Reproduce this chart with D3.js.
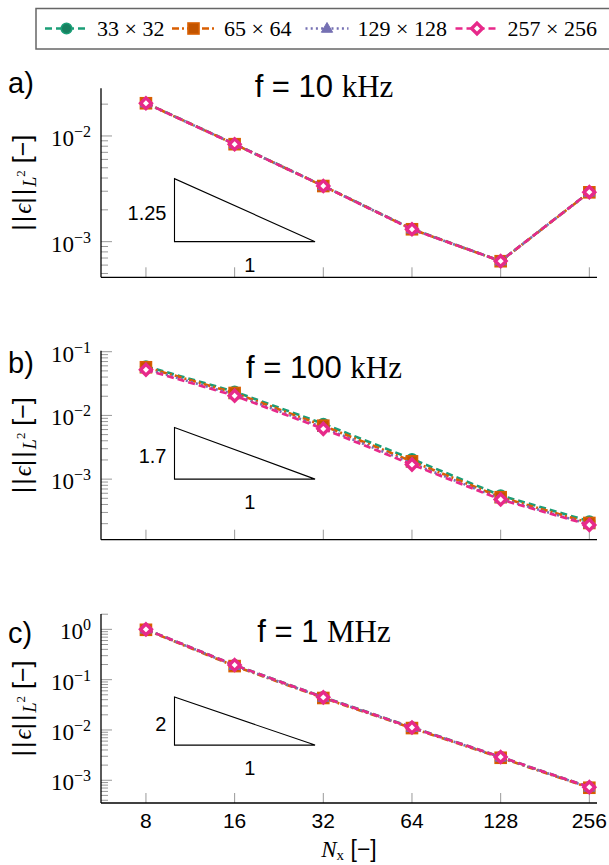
<!DOCTYPE html>
<html>
<head>
<meta charset="utf-8">
<script src="https://cdn.jsdelivr.net/npm/d3@7"></script>
<style>
  body { margin: 0; background: #fff; }
  svg { display: block; }
</style>
</head>
<body>
<svg id="chart" width="609" height="865"></svg>
<script>
// Grid sizes along x
const nx = [8, 16, 32, 64, 128, 256];
const xTickLabels = ["8", "16", "32", "64", "128", "256"];
const seriesNames = ["33 × 32", "65 × 64", "129 × 128", "257 × 256"];

// L2 error, f = 10 kHz
const err10k_33 = [0.0205, 0.00840, 0.00338, 0.00132, 0.000656, 0.00294];
const err10k_65 = [0.0204, 0.00836, 0.00336, 0.00131, 0.000653, 0.00293];
const err10k_129 = [0.0204, 0.00835, 0.00336, 0.00131, 0.000654, 0.00293];
const err10k_257 = [0.0204, 0.00835, 0.00336, 0.00131, 0.000655, 0.00294];

// L2 error, f = 100 kHz
const err100k_33 = [0.059, 0.0236, 0.00740, 0.00207, 0.000555, 0.000218];
const err100k_65 = [0.057, 0.0225, 0.00690, 0.00190, 0.000520, 0.000205];
const err100k_129 = [0.054, 0.0212, 0.00645, 0.00177, 0.000492, 0.000196];
const err100k_257 = [0.052, 0.0204, 0.00615, 0.00169, 0.000478, 0.000191];

// L2 error, f = 1 MHz
const err1M_33 = [1.00, 0.195, 0.0450, 0.0113, 0.00290, 0.000730];
const err1M_65 = [0.98, 0.186, 0.0432, 0.0109, 0.00280, 0.000710];
const err1M_129 = [1.00, 0.190, 0.0440, 0.0111, 0.00285, 0.000720];
const err1M_257 = [1.00, 0.195, 0.0445, 0.0112, 0.00290, 0.000730];

// Reference slopes drawn as triangles
const slopes = [1.25, 1.7, 2];
const slopeLabels = ["1.25", "1.7", "2"];
const slopeBaseY = [1e-3, 1e-3, 5e-3];
const slopeX = [10, 30];

const panelLetters = ["a)", "b)", "c)"];
const freqValues = ["10", "100", "1"];
const freqUnits = ["kHz", "kHz", "MHz"];

// ---- styling ----
const colors = ["#1b9e77", "#d95f02", "#7570b3", "#e7298a"];
const dashes = ["7,4", "7,3,2,3", "2,3.2", "7,4"];
const markers = ["circle", "square", "triangle", "diamond"];

const panels = [
  { top: 88.3, ymin: 4.60e-4, ymax: 0.02825, series: [err10k_33, err10k_65, err10k_129, err10k_257] },
  { top: 350.7, ymin: 1.12e-4, ymax: 0.1037, series: [err100k_33, err100k_65, err100k_129, err100k_257] },
  { top: 614.0, ymin: 3.53e-4, ymax: 2.02, series: [err1M_33, err1M_65, err1M_129, err1M_257] }
];
const panelH = 189;
const xLeft = 101, xRight = 597;

const SANS = "'Liberation Sans', Arial, sans-serif";
const SERIF = "'Liberation Serif', 'DejaVu Serif', serif";

const svg = d3.select("#chart");

const x = d3.scaleLog().base(2).domain([5.63, 271.8]).range([xLeft, xRight]);

function drawMarker(g, type, cx, cy, i) {
  if (type === "circle") {
    g.append("circle").attr("cx", cx).attr("cy", cy).attr("r", 5.3)
      .attr("fill", "#17805f").attr("stroke", colors[i]).attr("stroke-width", 1.6);
  } else if (type === "square") {
    g.append("rect").attr("x", cx - 5.5).attr("y", cy - 5.5).attr("width", 11).attr("height", 11)
      .attr("fill", "#c25400").attr("stroke", colors[i]).attr("stroke-width", 1.6);
  } else if (type === "triangle") {
    g.append("path").attr("d", d3.symbol(d3.symbolTriangle, 55)())
      .attr("transform", `translate(${cx},${cy + 0.5})`)
      .attr("fill", colors[i]).attr("stroke", colors[i]).attr("stroke-width", 1);
  } else {
    const s = 5.4;
    g.append("path").attr("d", `M${cx},${cy - s}L${cx + s},${cy}L${cx},${cy + s}L${cx - s},${cy}Z`)
      .attr("fill", "#fff").attr("stroke", colors[i]).attr("stroke-width", 3.4)
      .attr("stroke-linejoin", "miter");
  }
}

panels.forEach((p, pi) => {
  const y = d3.scaleLog().domain([p.ymin, p.ymax]).range([p.top + panelH, p.top]);
  const g = svg.append("g");
  const bottom = p.top + panelH;

  // minor and major y ticks (inside)
  const kMin = Math.floor(Math.log10(p.ymin)), kMax = Math.ceil(Math.log10(p.ymax));
  for (let k = kMin; k <= kMax; k++) {
    for (let m = 1; m <= 9; m++) {
      const v = m * Math.pow(10, k);
      if (v < p.ymin || v > p.ymax * 1.0001) continue;
      const yy = y(v);
      g.append("line").attr("x1", xLeft).attr("x2", xLeft + (m === 1 ? 11 : 7))
        .attr("y1", yy).attr("y2", yy).attr("stroke", "#999").attr("stroke-width", 1);
      if (m === 1) {
        const t = g.append("text").attr("x", 91).attr("y", yy + 10)
          .attr("text-anchor", "end").attr("font-family", SERIF).attr("fill", "#000");
        t.append("tspan").attr("font-size", 23).text("10");
        t.append("tspan").attr("font-size", 16).attr("dy", -9).text(k === 0 ? "0" : "−" + (-k));
      }
    }
  }

  // x ticks (inside)
  nx.forEach((n, j) => {
    g.append("line").attr("x1", x(n)).attr("x2", x(n))
      .attr("y1", bottom).attr("y2", bottom - 10).attr("stroke", "#999").attr("stroke-width", 1);
    if (pi === 2) {
      g.append("text").attr("x", x(n)).attr("y", bottom + 25).attr("text-anchor", "middle")
        .attr("font-family", SANS).attr("font-size", 21).text(xTickLabels[j]);
    }
  });

  // axis lines (left and bottom)
  g.append("line").attr("x1", xLeft).attr("x2", xLeft).attr("y1", p.top).attr("y2", bottom)
    .attr("stroke", "#000").attr("stroke-width", 1.3);
  g.append("line").attr("x1", xLeft).attr("x2", xRight).attr("y1", bottom).attr("y2", bottom)
    .attr("stroke", "#000").attr("stroke-width", 1.3);

  // slope triangle
  const x0 = slopeX[0], x1 = slopeX[1];
  const y0 = slopeBaseY[pi], y1 = y0 * Math.pow(x1 / x0, slopes[pi]);
  g.append("path")
    .attr("d", `M${x(x0)},${y(y1)}L${x(x0)},${y(y0)}L${x(x1)},${y(y0)}Z`)
    .attr("fill", "none").attr("stroke", "#000").attr("stroke-width", 1.1);
  g.append("text").attr("x", x(x0) - 8).attr("y", (y(y0) + y(y1)) / 2 + 10)
    .attr("text-anchor", "end").attr("font-family", SANS).attr("font-size", 20).text(slopeLabels[pi]);
  g.append("text").attr("x", x(Math.sqrt(x0 * x1)) + 5).attr("y", y(y0) + 30)
    .attr("text-anchor", "middle").attr("font-family", SANS).attr("font-size", 20).text("1");

  // series lines and markers
  p.series.forEach((vals, si) => {
    const pts = nx.map((n, j) => [x(n), y(vals[j])]);
    g.append("path").attr("d", d3.line()(pts)).attr("fill", "none")
      .attr("stroke", colors[si]).attr("stroke-width", 2.6)
      .attr("stroke-dasharray", dashes[si]);
    pts.forEach(([cx, cy]) => drawMarker(g, markers[si], cx, cy, si));
  });

  // title
  const tt = g.append("text").attr("x", 324).attr("y", [96.7, 378, 641.7][pi])
    .attr("text-anchor", "middle").attr("font-size", 31);
  tt.append("tspan").attr("font-family", SANS).text("f = " + freqValues[pi] + " ");
  tt.append("tspan").attr("font-family", SERIF).text(freqUnits[pi]);

  // panel letter
  g.append("text").attr("x", 8).attr("y", [93, 373, 643][pi])
    .attr("font-family", SANS).attr("font-size", 29).text(panelLetters[pi]);

  // y axis label
  const yl = g.append("text")
    .attr("transform", `translate(31,${p.top + panelH / 2}) rotate(-90)`)
    .attr("text-anchor", "middle").attr("font-size", 25);
  yl.append("tspan").attr("font-family", SANS).attr("letter-spacing", 2).text("||");
  yl.append("tspan").attr("font-family", SERIF).attr("font-style", "italic").text("ϵ");
  yl.append("tspan").attr("font-family", SANS).attr("letter-spacing", 2).text("||");
  yl.append("tspan").attr("font-family", SERIF).attr("font-style", "italic").attr("font-size", 18).attr("dy", 5).text("L");
  yl.append("tspan").attr("font-family", SERIF).attr("font-size", 13).attr("dy", -11).text("2");
  yl.append("tspan").attr("font-family", SANS).attr("dy", 6).text("  [−]");
});

// x axis label
const xl = svg.append("text").attr("x", (xLeft + xRight) / 2).attr("y", 857)
  .attr("text-anchor", "middle").attr("font-size", 23);
xl.append("tspan").attr("font-family", SERIF).attr("font-style", "italic").text("N");
xl.append("tspan").attr("font-family", SERIF).attr("font-size", 15).attr("dy", 3).text("x");
xl.append("tspan").attr("font-family", SANS).attr("dy", -3).text(" [−]");

// legend
const lg = svg.append("g");
lg.append("rect").attr("x", 36).attr("y", 8.5).attr("width", 600).attr("height", 40.5)
  .attr("fill", "#fff").attr("stroke", "#666").attr("stroke-width", 1.5);
const legendMarkerX = [66.5, 193.5, 327, 477];
seriesNames.forEach((name, i) => {
  const mx = legendMarkerX[i], my = 28.5;
  lg.append("line").attr("x1", mx - 21.5).attr("x2", mx + 21.5).attr("y1", my).attr("y2", my)
    .attr("stroke", colors[i]).attr("stroke-width", 2.6).attr("stroke-dasharray", dashes[i]);
  drawMarker(lg, markers[i], mx, my, i);
  lg.append("text").attr("x", mx + 30.5).attr("y", my + 7.5)
    .attr("font-family", SERIF).attr("font-size", 22).text(name);
});
</script>
</body>
</html>
